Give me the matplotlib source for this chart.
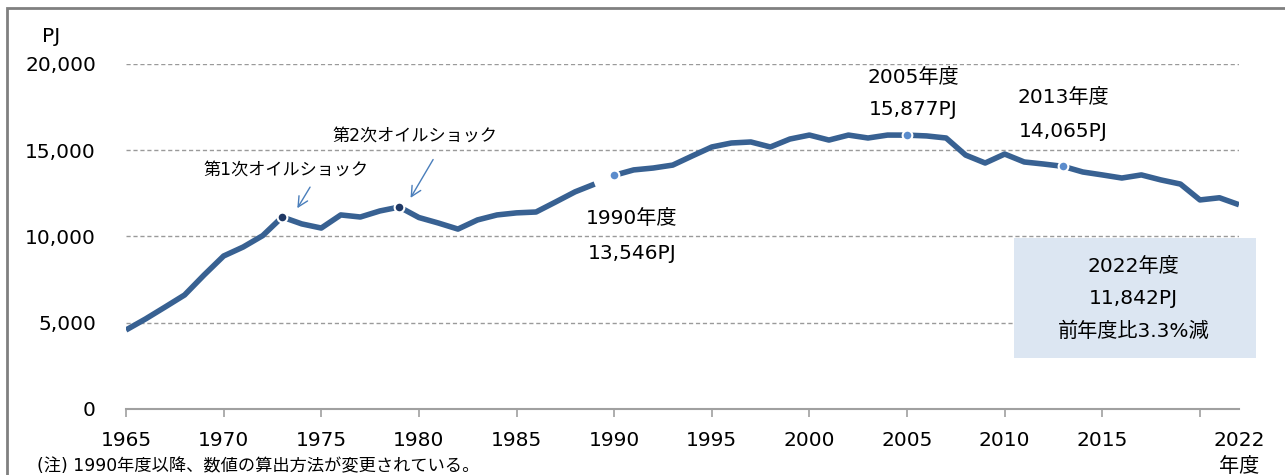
import matplotlib
matplotlib.use('Agg')
import matplotlib.pyplot as plt
from matplotlib.patches import Rectangle

plt.rcParams['font.family'] = ['DejaVu Sans', 'Noto Sans CJK JP']

# 最終エネルギー消費 (PJ) - 1990年度で算出方法が変わるので2系列
years_old = list(range(1965, 1990))
vals_old = [4580, 5220, 5910, 6610, 7770, 8870, 9390, 10050, 11130, 10730,
            10490, 11250, 11130, 11480, 11710, 11100, 10780, 10430, 10960, 11250,
            11370, 11420, 12000, 12590, 13040]
years_new = list(range(1990, 2023))
vals_new = [13546, 13860, 13970, 14140, 14670, 15190, 15420, 15480, 15190, 15650,
            15880, 15590, 15880, 15710, 15880, 15877, 15830, 15710, 14720, 14260,
            14780, 14320, 14200, 14065, 13740, 13570, 13390, 13570, 13280, 13040,
            12120, 12246, 11842]

shock_years = [1973, 1979]
shock_labels = ['第1次オイルショック', '第2次オイルショック']
key_years = [1990, 2005, 2013]
key_labels = ['1990年度\n13,546PJ', '2005年度\n15,877PJ', '2013年度\n14,065PJ']

yticks = [0, 5000, 10000, 15000, 20000]
xticks = list(range(1965, 2021, 5))

line_c = '#386192'
FS = 14.5
W, H = 1285, 475
fig = plt.figure(figsize=(W / 100, H / 100), dpi=100)
ax = fig.add_axes([126 / W, 1 - 409 / H, (1239 - 126) / W, (409 - 64) / H])

fig.patches.append(Rectangle((7 / W, -0.1), 1.2, 1 - 8 / H + 0.1, transform=fig.transFigure,
                             fill=False, edgecolor='#808080', linewidth=2))

ax.plot(years_old, vals_old, color=line_c, lw=4, solid_capstyle='butt', zorder=3)
ax.plot(years_new, vals_new, color=line_c, lw=4, solid_capstyle='butt', zorder=3)

allv = dict(zip(years_old + years_new, vals_old + vals_new))
for y in shock_years:
    ax.plot(y, allv[y], 'o', ms=7, mfc='#1f3864', mec='white', mew=1.5, zorder=4)
for y in key_years:
    ax.plot(y, allv[y], 'o', ms=7, mfc='#5b8ccc', mec='white', mew=1.5, zorder=4)

ax.set_xlim(1965, 2022)
ax.set_ylim(0, 20000)
for v in yticks[1:]:
    ax.axhline(v, color='#9a9a9a', lw=1, ls=(0, (3, 2)), zorder=1)

for s in ['top', 'right', 'left']:
    ax.spines[s].set_visible(False)
ax.spines['bottom'].set_color('#a0a0a0')
ax.spines['bottom'].set_linewidth(1.5)

ax.set_yticks(yticks)
ax.set_yticklabels([f'{v:,}' for v in yticks], fontsize=FS)
ax.tick_params(axis='y', length=0, pad=21.6)
ax.set_xticks(xticks)
ax.set_xticklabels([str(x) if x != 2020 else '' for x in xticks], fontsize=FS)
ax.tick_params(axis='x', direction='out', length=6, width=1.2, color='#a0a0a0', pad=9.5)

ax.text(2022, -1800, '2022', ha='center', va='center', fontsize=FS, clip_on=False)
ax.text(2022, -3350, '年度', ha='center', va='center', fontsize=FS, clip_on=False)
fig.text(51 / W, 1 - 37 / H, 'PJ', ha='center', va='center', fontsize=FS)
fig.text(37 / W, 1 - 466 / H, '(注) 1990年度以降、数値の算出方法が変更されている。',
         ha='left', va='center', fontsize=12.4)

# オイルショック注記と矢印
ax.text(1973.2, 13880, shock_labels[0], ha='center', va='center', fontsize=12.3)
ax.annotate('', xy=(1973.7, 11500), xytext=(1974.5, 13000),
            arrowprops=dict(arrowstyle='->', color='#4a7ebb', lw=1, mutation_scale=18))
ax.text(1979.8, 15870, shock_labels[1], ha='center', va='center', fontsize=12.3)
ax.annotate('', xy=(1979.5, 12100), xytext=(1980.8, 14600),
            arrowprops=dict(arrowstyle='->', color='#4a7ebb', lw=1, mutation_scale=18))

ax.text(1990.9, 10030, key_labels[0], ha='center', va='center', fontsize=FS, linespacing=2.05)
ax.text(2005.3, 18300, key_labels[1], ha='center', va='center', fontsize=FS, linespacing=1.9)
ax.text(2013.0, 17080, key_labels[2], ha='center', va='center', fontsize=FS, linespacing=2.0)

ax.add_patch(Rectangle((2010.5, 2950), 12.35, 6970, facecolor='#dce6f2', edgecolor='none',
                       zorder=2, clip_on=False))
ax.text(2016.6, 6380, '2022年度\n11,842PJ\n前年度比3.3%減', ha='center', va='center',
        fontsize=FS, linespacing=1.9, zorder=3)

fig.savefig('out.png', dpi=100)
